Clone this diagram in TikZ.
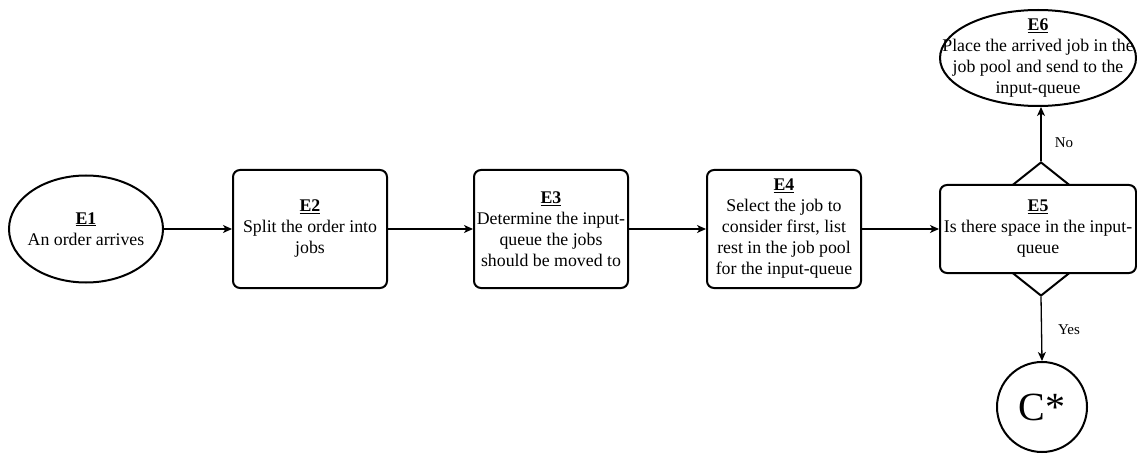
\documentclass[tikz,border=0pt]{standalone}
\usepackage{fontspec}
\setmainfont{Liberation Serif}
\newfontfamily\timesfont{Liberation Serif}
\usetikzlibrary{arrows.meta,shapes.geometric}

\begin{document}
\begin{tikzpicture}[
  x=1pt,y=-1pt,
  font=\timesfont\fontsize{17.8}{21}\selectfont,
  arrow/.style={-{Stealth[length=9pt,width=8pt,inset=2.5pt]},line width=1.3pt},
  stepbox/.style={draw,rounded corners=7pt,line width=2pt,fill=white,align=center,
    minimum width=154pt,minimum height=118pt,inner sep=1pt},
  event/.style={ellipse,draw,line width=2pt,inner sep=0pt},
  eventtext/.style={align=center,inner sep=0pt},
  decision/.style={diamond,draw,line width=2pt,minimum width=168pt,minimum height=134pt,inner sep=0pt},
  connector/.style={circle,draw,line width=2pt,minimum size=90pt,inner sep=0pt,
    font=\timesfont\fontsize{40}{44}\selectfont},
  answer/.style={font=\timesfont\fontsize{15}{18}\selectfont,inner sep=0pt}
]
\useasboundingbox (0,0) rectangle (1137,457);

% Main line of events, left to right.
\node[event,minimum width=154pt,minimum height=107pt,
  label={[eventtext]center:\underline{\textbf{E1}}\\An order arrives}] (e1) at (86,229) {};
\node[stepbox] (e2) at (310,229)
  {\underline{\textbf{E2}}\\Split the order into\\jobs};
\node[stepbox] (e3) at (551,229)
  {\underline{\textbf{E3}}\\Determine the input-\\queue the jobs\\should be moved to};
\node[stepbox] (e4) at (784,229)
  {\underline{\textbf{E4}}\\Select the job to\\consider first, list\\rest in the job pool\\for the input-queue};

% Decision: a diamond behind the box.
\node[decision] (e5d) at (1041,229) {};
\node[stepbox,minimum width=196pt,minimum height=88pt] (e5) at (1038,229)
  {\underline{\textbf{E5}}\\Is there space in the input-\\queue};

\node[event,minimum width=196pt,minimum height=96pt,
  label={[eventtext]center:\underline{\textbf{E6}}\\Place the arrived job in the\\job pool and send to the\\input-queue}] (e6) at (1038,58) {};
\node[connector] (cstar) at (1042,407) {C*};

\foreach \a/\b in {e1/e2,e2/e3,e3/e4,e4/e5}
  {\draw[arrow] (\a.east) -- (\b.west);}
\draw[arrow] (e5d.north) -- (e5d.north |- e6.south);
\draw[arrow] (e5d.south) -- (cstar.north);

\node[answer] (no) at (1064,143) {No};
\node[answer] (yes) at (1069,330) {Yes};
\end{tikzpicture}
\end{document}
